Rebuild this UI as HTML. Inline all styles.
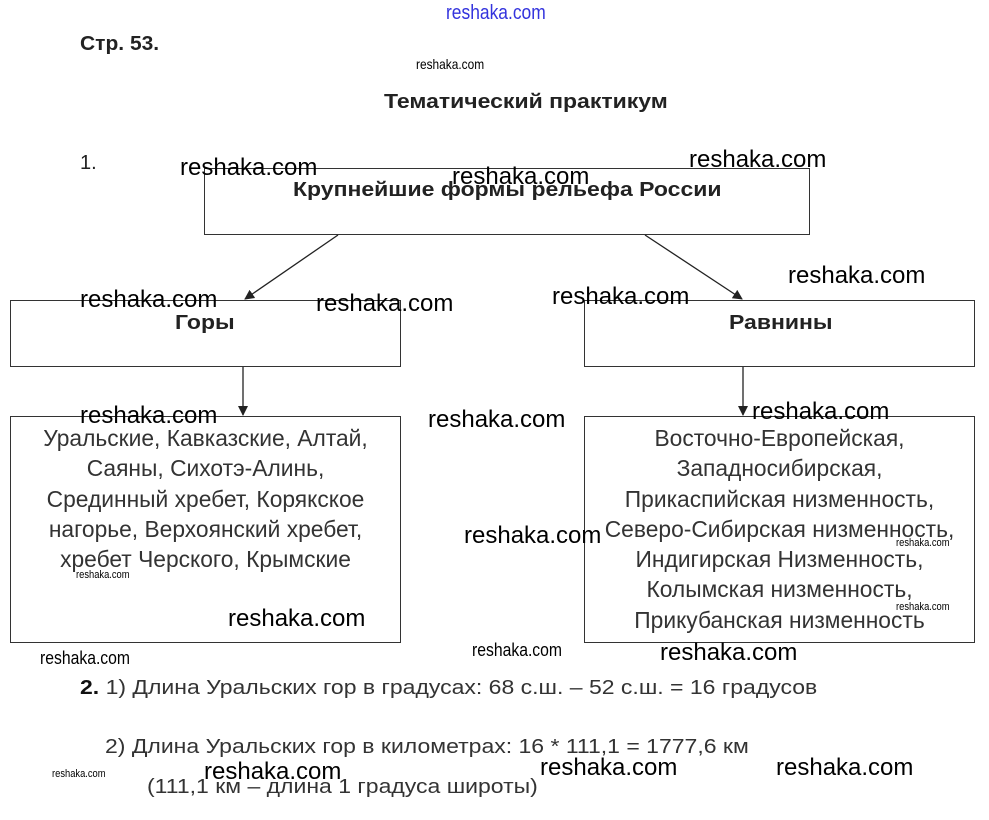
<!DOCTYPE html>
<html><head><meta charset="utf-8"><style>
body{margin:0;width:989px;height:820px;background:#fff;position:relative;overflow:hidden;font-family:"Liberation Sans",sans-serif;color:#222}
.a{position:absolute;white-space:nowrap;transform-origin:left top}
.t{font-size:20px;transform:scaleX(1.15)}
.box{position:absolute;border:1px solid #333;box-sizing:border-box}
.w{position:absolute;white-space:nowrap;font-size:24px;color:#000;transform:scaleX(1.0);transform-origin:left top}
.ws{position:absolute;white-space:nowrap;font-size:12px;color:#000;transform:scaleX(0.85);transform-origin:left top}
.lst{position:absolute;text-align:center;font-size:22.8px;line-height:30.3px;color:#333}
</style></head><body>
<div class="a" style="left:446px;top:1px;font-size:20.5px;color:#3333dd;transform:scaleX(0.85)">reshaka.com</div>
<div class="a" style="left:80px;top:33px;font-size:20px;font-weight:bold;transform:scaleX(1.05)">Стр. 53.</div>
<div class="ws" style="left:416px;top:56px;font-size:14px">reshaka.com</div>
<div class="a t" style="left:384px;top:91px;font-weight:bold">Тематический практикум</div>
<div class="a" style="left:80px;top:152px;font-size:20px">1.</div>

<div class="box" style="left:204px;top:168px;width:606px;height:67px"></div>
<div class="a t" style="left:293px;top:179px;font-weight:bold">Крупнейшие формы рельефа России</div>
<div class="box" style="left:10px;top:300px;width:391px;height:67px"></div>
<div class="a t" style="left:175px;top:312px;font-weight:bold">Горы</div>
<div class="box" style="left:584px;top:300px;width:391px;height:67px"></div>
<div class="a t" style="left:729px;top:312px;font-weight:bold">Равнины</div>
<div class="box" style="left:10px;top:416px;width:391px;height:227px"></div>
<div class="box" style="left:584px;top:416px;width:391px;height:227px"></div>

<svg style="position:absolute;left:0;top:0" width="989" height="820">
<defs><marker id="m" markerWidth="10" markerHeight="10" refX="9" refY="5" orient="auto" markerUnits="userSpaceOnUse"><path d="M0,0 L10,5 L0,10 z" fill="#222"/></marker></defs>
<g stroke="#222" stroke-width="1.3" marker-end="url(#m)">
<line x1="338" y1="235" x2="245" y2="299"/>
<line x1="645" y1="235" x2="742" y2="299"/>
<line x1="243" y1="367" x2="243" y2="415"/>
<line x1="743" y1="367" x2="743" y2="415"/>
</g></svg>

<div class="lst" style="left:10px;top:423px;width:391px">Уральские, Кавказские, Алтай,<br>Саяны, Сихотэ-Алинь,<br>Срединный хребет, Корякское<br>нагорье, Верхоянский хребет,<br>хребет Черского, Крымские</div>
<div class="lst" style="left:584px;top:423px;width:391px">Восточно-Европейская,<br>Западносибирская,<br>Прикаспийская низменность,<br>Северо-Сибирская низменность,<br>Индигирская Низменность,<br>Колымская низменность,<br>Прикубанская низменность</div>

<div class="a t" style="left:80px;top:677px;color:#333"><b style="color:#111">2.</b> 1) Длина Уральских гор в градусах: 68 с.ш. – 52 с.ш. = 16 градусов</div>
<div class="a t" style="left:105px;top:736px;color:#333">2) Длина Уральских гор в километрах: 16 * 111,1 = 1777,6 км</div>
<div class="a t" style="left:147px;top:776px;color:#333">(111,1 км – длина 1 градуса широты)</div>

<div class="w" style="left:180px;top:154px">reshaka.com</div>
<div class="w" style="left:452px;top:163px">reshaka.com</div>
<div class="w" style="left:689px;top:146px">reshaka.com</div>
<div class="w" style="left:788px;top:262px">reshaka.com</div>
<div class="w" style="left:80px;top:286px">reshaka.com</div>
<div class="w" style="left:316px;top:290px">reshaka.com</div>
<div class="w" style="left:552px;top:283px">reshaka.com</div>
<div class="w" style="left:80px;top:402px">reshaka.com</div>
<div class="w" style="left:428px;top:406px">reshaka.com</div>
<div class="w" style="left:752px;top:398px">reshaka.com</div>
<div class="w" style="left:464px;top:522px">reshaka.com</div>
<div class="ws" style="left:896px;top:537px;font-size:11px">reshaka.com</div>
<div class="ws" style="left:76px;top:569px;font-size:11px">reshaka.com</div>
<div class="ws" style="left:896px;top:601px;font-size:11px">reshaka.com</div>
<div class="w" style="left:228px;top:605px">reshaka.com</div>
<div class="ws" style="left:40px;top:647px;font-size:18.5px">reshaka.com</div>
<div class="ws" style="left:472px;top:639px;font-size:18.5px">reshaka.com</div>
<div class="w" style="left:660px;top:639px">reshaka.com</div>
<div class="ws" style="left:52px;top:768px;font-size:11px">reshaka.com</div>
<div class="w" style="left:204px;top:758px">reshaka.com</div>
<div class="w" style="left:540px;top:754px">reshaka.com</div>
<div class="w" style="left:776px;top:754px">reshaka.com</div>
</body></html>
